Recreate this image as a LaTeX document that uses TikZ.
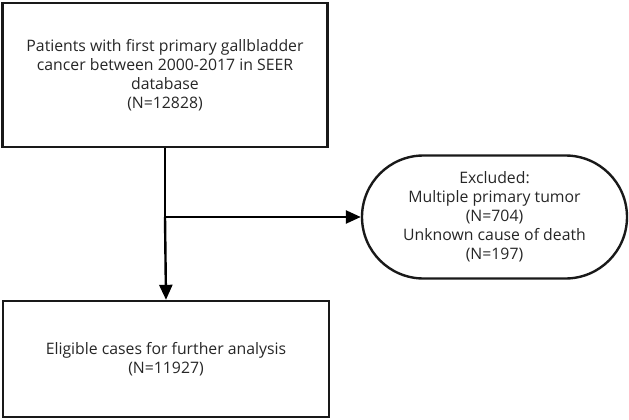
\documentclass[tikz,border=0pt]{standalone}
\usepackage{fontspec}
\setmainfont{Open Sans}
\usetikzlibrary{arrows.meta,shapes.misc}
\begin{document}
\begin{tikzpicture}[x=1pt,y=-1pt,
  box/.style={draw=black!90,line width=2.4pt,minimum width=#1,align=center,inner sep=0pt,font=\fontsize{15.8}{19}\selectfont,text=black!85},
  conn/.style={line width=2.4pt,-{Triangle[length=15pt,width=13pt]}}]
\useasboundingbox (0,0) rectangle (629,420);
\node[box=325, minimum height=144] (top) at (165,75) {Patients with first primary gallbladder\\cancer between 2000-2017 in SEER\\database\\(N=12828)};
\node[box=326, minimum height=116] (bot) at (166,359) {Eligible cases for further analysis\\(N=11927)};
\node[box=265, minimum height=123, rounded rectangle] (exc) at (494.5,217) {Excluded:\\Multiple primary tumor\\(N=704)\\Unknown cause of death\\(N=197)};
\coordinate (j) at (top.south |- exc.west);
\draw[line width=2.4pt] (top.south) -- (j);
\draw[conn] (j) -- (bot.north);
\draw[conn] (j) -- (exc.west);
\end{tikzpicture}
\end{document}
